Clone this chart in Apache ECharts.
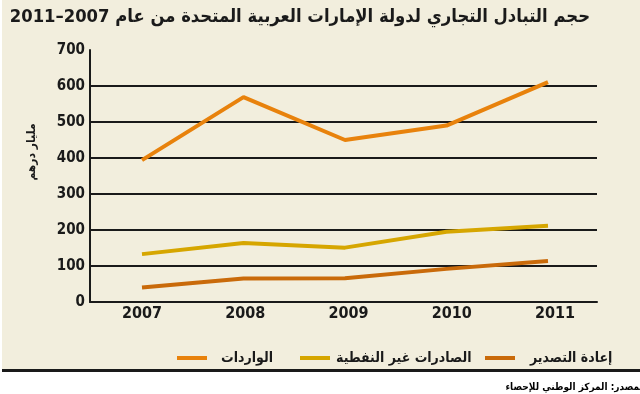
<!DOCTYPE html>
<html><head><meta charset="utf-8">
<script src="https://cdn.jsdelivr.net/npm/echarts@6/dist/echarts.min.js"></script>
<style>html,body{margin:0;padding:0;background:#fff}#c{width:640px;height:394px}</style>
</head><body><div id="c"></div>
<script>
const years = ['2007','2008','2009','2010','2011'];
const imports = [394, 569, 450, 490, 611];
const nonOilExports = [133, 164, 151, 195, 212];
const reExports = [40, 65, 66, 92, 114];
const yTicks = [0, 100, 200, 300, 400, 500, 600, 700];
const seriesNames = ['الواردات', 'الصادرات غير النفطية', 'إعادة التصدير'];
const colors = ['#e8820c', '#d6a600', '#c96a0a'];
const titleText = 'حجم التبادل التجاري لدولة الإمارات العربية المتحدة من عام 2007–2011';
const yName = 'مليار درهم';
const sourceText = 'المصدر: المركز الوطني للإحصاء';

const font = 'DejaVu Sans';
const condFont = '"DejaVu Sans Condensed", "DejaVu Sans"';
const chart = echarts.init(document.getElementById('c'), null, {renderer: 'canvas'});
const gTop = 50, gBottom = 92;
const legendLefts = [177, 300, 485];
const legendPads = [9, 1, 10];
chart.setOption({
  animation: false,
  backgroundColor: '#ffffff',
  textStyle: {fontFamily: font},
  graphic: [
    {type: 'rect', z: -10, silent: true, shape: {x: 2, y: 0, width: 638, height: 370}, style: {fill: '#f2eedd'}},
    {type: 'rect', z: 10, silent: true, shape: {x: 2, y: 369, width: 638, height: 3}, style: {fill: '#1a1a1a'}},
    {type: 'text', z: 10, x: 590, y: 17, style: {text: titleText, font: 'bold 18.3px ' + condFont, fill: '#1a1a1a', align: 'right', verticalAlign: 'middle'}},
    {type: 'text', z: 10, x: 32, y: 152, rotation: Math.PI / 2, style: {text: yName, font: 'bold 12px ' + condFont, fill: '#1a1a1a', align: 'center', verticalAlign: 'middle'}},
    {type: 'text', z: 10, x: 646, y: 387, style: {text: sourceText, font: 'bold 10px ' + condFont, fill: '#000', align: 'right', verticalAlign: 'middle'}}
  ],
  legend: seriesNames.map((n, i) => ({
    data: [n], left: legendLefts[i], top: 351, icon: 'rect', itemWidth: 30, itemHeight: 4,
    textStyle: {fontFamily: condFont, fontWeight: 'bold', fontSize: 14, color: '#1a1a1a', padding: [0, 0, 0, legendPads[i]]}, itemGap: 0, padding: 0
  })),
  grid: [
    {left: 90, right: 43, top: gTop, bottom: gBottom},
    {left: 142, right: 92, top: gTop, bottom: gBottom},
    {left: 142, right: 85, top: gTop, bottom: gBottom}
  ],
  xAxis: [
    {gridIndex: 0, type: 'category', data: years, axisLine: {lineStyle: {color: '#1a1a1a', width: 2}}, axisTick: {show: false}, axisLabel: {show: false}},
    {gridIndex: 1, type: 'category', data: years, boundaryGap: false, show: false},
    {gridIndex: 2, type: 'category', data: years, boundaryGap: false, axisLine: {show: false}, axisTick: {show: false},
      axisLabel: {color: '#1a1a1a', fontWeight: 'bold', fontSize: 16, margin: 4, fontFamily: condFont}}
  ],
  yAxis: [
    {gridIndex: 0, type: 'value', min: yTicks[0], max: yTicks[yTicks.length - 1], interval: 100,
      axisLine: {show: true, lineStyle: {color: '#1a1a1a', width: 2}}, axisTick: {show: false},
      axisLabel: {color: '#1a1a1a', fontWeight: 'bold', fontSize: 15, margin: 5, fontFamily: condFont},
      splitLine: {show: true, showMinLine: false, showMaxLine: false, lineStyle: {color: '#1a1a1a', width: 2}}},
    {gridIndex: 1, type: 'value', min: 0, max: 700, show: false, splitLine: {show: false}},
    {gridIndex: 2, type: 'value', min: 0, max: 700, show: false, splitLine: {show: false}}
  ],
  series: [imports, nonOilExports, reExports].map((d, i) => ({
    name: seriesNames[i], type: 'line', xAxisIndex: 1, yAxisIndex: 1, data: d, symbol: 'none',
    color: colors[i], lineStyle: {color: colors[i], width: 4}, z: 5
  }))
});
</script></body></html>
